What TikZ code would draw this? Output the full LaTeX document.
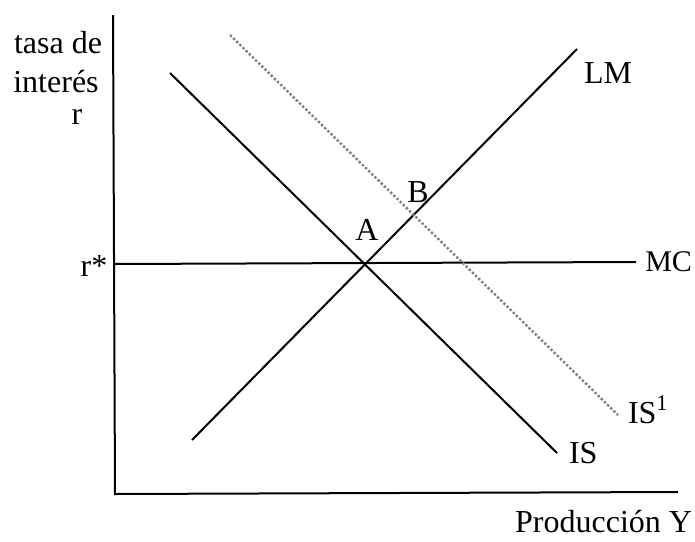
\documentclass[tikz,border=0pt]{standalone}
\usepackage{fontspec}
\setmainfont{Liberation Serif}
\begin{document}
\begin{tikzpicture}[x=0.5pt, y=-0.5pt, line width=1pt,
  etiq/.style={font=\fontsize{16}{19}\selectfont, inner sep=0pt}]

\useasboundingbox (0,0) rectangle (695,541);

% ejes
\coordinate (ytop) at (113,15);
\coordinate (O) at (115,494);
\coordinate (xend) at (678,492);
\draw (ytop) -- (O) -- (xend);

% curvas
\coordinate (lm0) at (192,440);
\coordinate (lm1) at (577,49);
\coordinate (is0) at (170,73);
\coordinate (is1) at (557,453);
\coordinate (isb0) at (230,35);
\coordinate (isb1) at (618,415);
\coordinate (mc0) at (114,264);
\coordinate (mc1) at (636,262);

\draw (lm0) -- (lm1);
\draw (is0) -- (is1);
\draw (mc0) -- (mc1);
\draw[gray, densely dotted, line width=1.2pt] (isb0) -- (isb1);

% etiquetas
\node[etiq] (tasa) at (58,43) {tasa de};
\node[etiq] (inter) at (56,82) {interés};
\node[etiq] (r) at (77,117) {r};
\node[etiq] (rstar) at (94,266) {r*};
\node[etiq] (A) at (367,230) {A};
\node[etiq] (B) at (418,192) {B};
\node[etiq, anchor=west] (LM) at (583,73) {LM};
\node[etiq, anchor=east, font=\fontsize{15}{18}\selectfont] (MC) at (693,262) {MC};
\node[etiq, anchor=west] (IS1) at (627,410) {IS\textsuperscript{1}};
\node[etiq, anchor=west] (IS) at (568,453) {IS};
\node[etiq, anchor=east] (prod) at (693,522) {Producción Y};

\end{tikzpicture}
\end{document}
